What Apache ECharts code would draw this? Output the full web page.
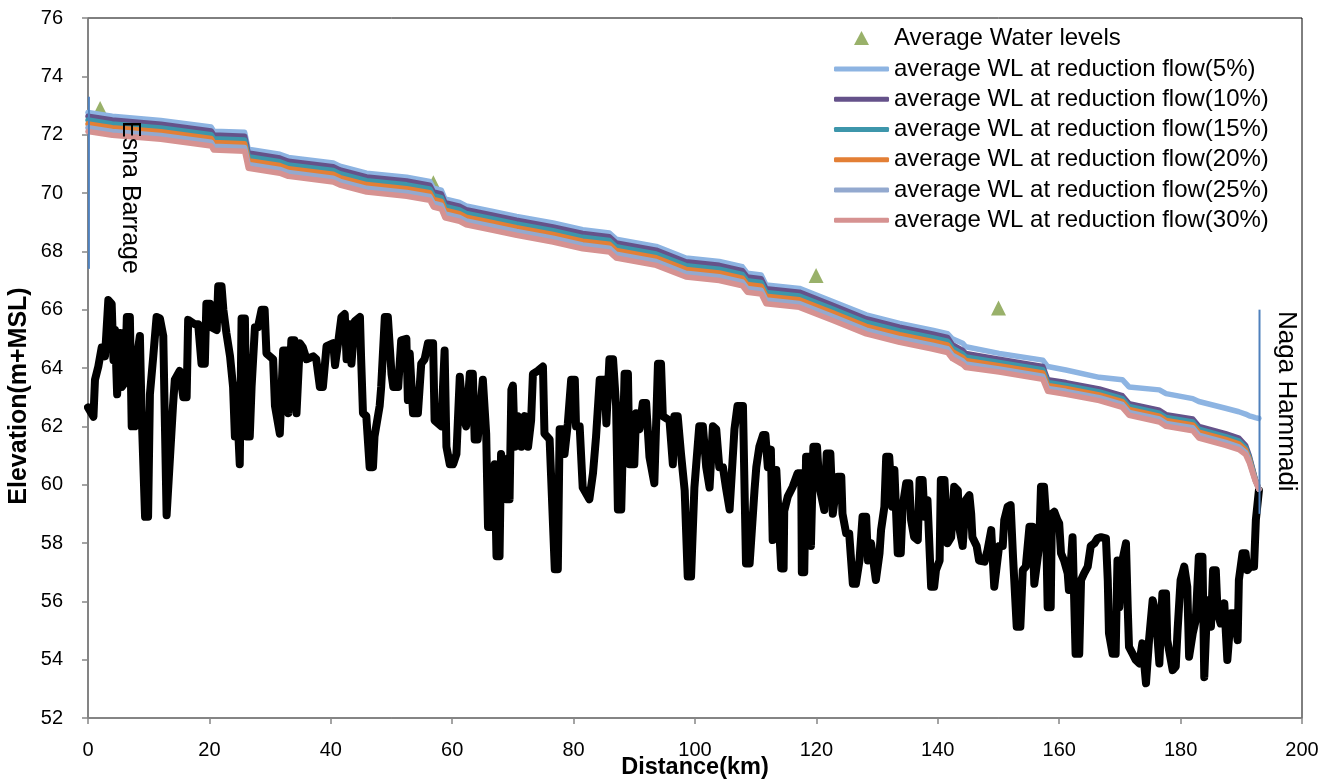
<!DOCTYPE html>
<html>
<head>
<meta charset="utf-8">
<script src="https://cdn.jsdelivr.net/npm/echarts@6/dist/echarts.min.js"></script>
<style>
html,body{margin:0;padding:0;background:#fff}
#c{width:1342px;height:782px}
</style>
</head>
<body>
<div id="c"></div>
<script>
// ---------------- DATA ----------------
const xTickMin = 0, xTickMax = 200, xTickStep = 20;
const yTickMin = 52, yTickMax = 76, yTickStep = 2;

const legendNames = [
  'Average Water levels',
  'average WL at reduction flow(5%)',
  'average WL at reduction flow(10%)',
  'average WL at reduction flow(15%)',
  'average WL at reduction flow(20%)',
  'average WL at reduction flow(25%)',
  'average WL at reduction flow(30%)'
];

// observed average water levels (triangles)
const obsDistance = [2.0, 56.9, 119.95, 150.0];
const obsLevel    = [72.90, 70.35, 67.17, 66.06];

// water-level profiles (km)
const wlDistance = [0,4,12,20.3,20.7,25.8,26.4,31.6,33.0,40.4,
  41.5,45.9,52.5,56.3,56.9,58.2,58.8,61.2,62.3,66.7,
  70.6,76.6,81.5,85.9,87.0,93.6,98.5,104,107.8,108.6,
  110.9,111.7,117.2,122.7,128.2,133.7,139.1,141.6,142.4,144.1,
  144.6,150.1,157.3,158.1,161.1,166.6,170.4,171.5,176.5,177.6,
  182.0,183.0,187.4,189.6,190.7,191.3,191.8,192.3,192.9];

const wl5 = [72.76,72.63,72.49,72.26,72.12,72.08,71.50,71.33,71.22,71.03,
  70.92,70.68,70.54,70.40,70.17,70.10,69.80,69.68,69.56,69.37,
  69.20,68.97,68.74,68.63,68.42,68.17,67.77,67.65,67.47,67.25,
  67.19,66.85,66.73,66.28,65.82,65.53,65.30,65.18,65.00,64.85,
  64.73,64.50,64.27,64.05,63.93,63.68,63.60,63.35,63.25,63.12,
  62.95,62.85,62.62,62.50,62.42,62.36,62.33,62.30,62.27];

const wl10 = [72.63,72.50,72.36,72.13,71.99,71.95,71.37,71.20,71.09,70.90,
  70.79,70.55,70.41,70.27,70.04,69.97,69.67,69.55,69.43,69.24,
  69.07,68.84,68.61,68.50,68.29,68.04,67.64,67.52,67.34,67.12,
  67.06,66.72,66.60,66.15,65.69,65.40,65.17,65.05,64.80,64.60,
  64.50,64.30,64.05,63.60,63.50,63.28,63.05,62.78,62.55,62.40,
  62.25,62.00,61.75,61.60,61.35,61.00,60.60,60.20,59.85];

const wl15 = [72.50,72.37,72.23,72.00,71.86,71.82,71.24,71.07,70.96,70.77,
  70.66,70.42,70.28,70.14,69.91,69.84,69.54,69.42,69.30,69.11,
  68.94,68.71,68.48,68.37,68.16,67.91,67.51,67.39,67.21,66.99,
  66.93,66.59,66.47,66.02,65.56,65.27,65.04,64.92,64.68,64.48,
  64.38,64.19,63.94,63.50,63.40,63.18,62.95,62.68,62.45,62.30,
  62.15,61.90,61.65,61.50,61.27,60.94,60.56,60.18,59.85];

const wl20 = [72.37,72.24,72.10,71.87,71.73,71.69,71.11,70.94,70.83,70.64,
  70.53,70.29,70.15,70.01,69.78,69.71,69.41,69.29,69.17,68.98,
  68.81,68.58,68.35,68.24,68.03,67.78,67.38,67.26,67.08,66.86,
  66.80,66.46,66.34,65.89,65.43,65.14,64.91,64.79,64.56,64.36,
  64.26,64.08,63.83,63.40,63.30,63.08,62.85,62.58,62.35,62.20,
  62.05,61.80,61.55,61.40,61.19,60.88,60.52,60.16,59.85];

const wl25 = [72.24,72.11,71.97,71.74,71.60,71.56,70.98,70.81,70.70,70.51,
  70.40,70.16,70.02,69.88,69.65,69.58,69.28,69.16,69.04,68.85,
  68.68,68.45,68.22,68.11,67.90,67.65,67.25,67.13,66.95,66.73,
  66.67,66.33,66.21,65.76,65.30,65.01,64.78,64.66,64.44,64.24,
  64.14,63.97,63.72,63.30,63.20,62.98,62.75,62.48,62.25,62.10,
  61.95,61.70,61.45,61.30,61.11,60.82,60.48,60.14,59.85];

const wl30 = [72.11,71.98,71.84,71.61,71.47,71.43,70.85,70.68,70.57,70.38,
  70.27,70.03,69.89,69.75,69.52,69.45,69.15,69.03,68.91,68.72,
  68.55,68.32,68.09,67.98,67.77,67.52,67.12,67.00,66.82,66.60,
  66.54,66.20,66.08,65.63,65.17,64.88,64.65,64.53,64.32,64.12,
  64.02,63.86,63.61,63.20,63.10,62.88,62.65,62.38,62.15,62.00,
  61.85,61.60,61.35,61.20,61.03,60.76,60.44,60.12,59.85];

// river bed profile [km, elevation]
const bedProfile = [
  [0.0,62.65],[0.9,62.33],[1.15,63.6],[1.7,64.05],[2.25,64.7],[2.8,64.4],[3.35,66.33],[3.9,66.2],[4.2,64.27],[4.45,65.3],
  [4.8,63.1],[5.3,65.2],[5.55,63.35],[6.1,63.5],[6.4,65.75],[6.9,65.75],[7.2,62.0],[7.7,62.0],[8.0,64.3],[8.55,65.1],
  [8.8,62.7],[9.4,58.9],[9.9,58.9],[10.2,63.1],[10.75,64.4],[11.3,65.75],[11.85,65.7],[12.4,65.1],[12.95,58.95],[13.2,59.0],
  [14.0,62.7],[14.3,63.6],[15.1,63.9],[15.7,63.0],[16.25,63.0],[16.5,65.65],[17.6,65.5],[18.15,65.5],[18.7,64.15],[19.25,64.15],
  [19.5,66.2],[20.1,66.2],[20.35,65.4],[21.2,65.3],[21.45,66.8],[22.0,66.8],[22.3,66.0],[22.8,65.2],[23.4,64.4],[23.9,63.35],
  [24.2,61.65],[24.4,63.4],[25.0,60.7],[25.3,65.7],[25.85,65.7],[26.1,61.65],[26.65,61.65],[26.95,63.35],[27.5,65.4],[28.0,65.4],
  [28.6,66.0],[29.1,66.0],[29.4,64.5],[30.5,64.3],[30.8,62.7],[31.6,61.75],[32.15,64.6],[32.7,64.6],[33.0,62.45],[33.5,64.95],
  [34.0,64.95],[34.35,62.45],[34.9,64.85],[35.4,64.7],[36.0,64.3],[37.1,64.4],[37.6,64.3],[38.2,63.35],[38.7,63.35],[39.3,64.75],
  [40.4,64.85],[40.7,64.1],[41.2,64.85],[41.75,65.75],[42.3,65.85],[42.6,64.3],[43.1,65.5],[43.4,64.15],[43.95,65.6],[44.8,65.75],
  [45.0,64.3],[45.3,62.45],[45.85,62.35],[46.4,60.6],[46.95,60.6],[47.2,61.65],[48.05,62.7],[48.3,63.35],[48.9,65.75],[49.4,65.75],
  [50.0,63.8],[50.3,63.35],[51.1,63.35],[51.6,64.95],[52.45,65.0],[52.7,62.9],[53.0,64.5],[53.55,62.45],[54.35,62.45],[54.9,64.15],
  [55.45,64.3],[56.0,64.85],[56.85,64.85],[57.1,62.2],[58.2,62.0],[58.75,64.6],[59.05,61.3],[59.6,60.7],[60.15,60.7],[60.7,61.05],
  [61.25,63.7],[61.8,62.35],[62.3,62.0],[62.9,63.8],[63.4,63.8],[63.7,61.55],[64.2,61.55],[65.05,63.6],[65.6,61.75],[65.9,58.55],
  [66.45,58.55],[67.0,60.7],[67.3,57.55],[67.8,57.55],[68.05,61.05],[68.9,59.5],[69.2,60.9],[69.45,59.5],[69.75,63.25],[70.0,63.4],
  [70.3,61.3],[70.8,62.35],[71.4,61.3],[71.95,62.35],[72.5,61.3],[73.0,62.2],[73.3,63.8],[74.1,63.9],[74.95,64.05],[75.2,61.75],
  [76.05,61.55],[76.3,60.25],[76.9,57.1],[77.4,57.1],[77.7,61.9],[78.2,61.9],[78.5,61.05],[79.05,62.1],[79.6,63.6],[80.2,63.6],
  [80.4,62.0],[81.0,62.0],[81.5,59.9],[82.6,59.5],[83.2,60.4],[83.7,61.65],[84.3,63.6],[85.1,63.6],[85.4,62.1],[85.9,64.3],
  [86.5,64.3],[87.0,62.7],[87.3,59.15],[87.85,59.15],[88.4,63.8],[88.95,63.8],[89.2,60.7],[90.0,60.7],[90.3,62.45],[90.85,61.9],
  [91.4,62.8],[91.95,62.8],[92.5,60.95],[93.3,60.05],[93.9,64.15],[94.4,64.15],[94.7,62.35],[95.8,62.2],[96.35,60.7],[96.6,62.35],
  [97.15,62.35],[97.7,61.05],[98.3,59.8],[98.8,56.85],[99.35,56.85],[99.9,59.9],[100.7,62.0],[101.3,62.0],[101.85,60.6],[102.4,59.9],
  [102.95,62.0],[103.5,61.9],[104.0,60.6],[104.6,60.6],[105.1,59.9],[105.7,59.15],[106.5,61.9],[107.0,62.7],[107.9,62.7],[108.4,57.3],
  [109.0,57.3],[109.8,59.8],[110.1,60.6],[110.6,61.3],[111.2,61.7],[111.6,61.7],[112.0,60.6],[112.5,61.2],[112.8,58.1],[113.4,60.5],
  [114.2,57.13],[114.6,57.13],[114.7,59.1],[115.3,59.6],[116.1,59.93],[116.9,60.39],[117.5,60.39],[117.6,57.0],[118.0,57.0],[118.3,60.96],
  [118.85,60.96],[119.1,57.9],[119.5,61.3],[120.1,61.3],[120.5,59.93],[121.3,59.13],[121.7,61.07],[122.3,61.07],[122.7,59.0],[123.5,60.27],
  [124.1,60.27],[124.3,59.0],[124.9,58.33],[125.4,58.33],[126.0,56.6],[126.5,56.6],[127.1,57.4],[127.6,58.9],[128.2,58.9],[128.5,57.4],
  [129.0,57.99],[129.8,56.73],[130.4,57.65],[130.65,58.44],[131.2,59.24],[131.5,60.96],[132.0,60.96],[132.5,59.24],[132.85,60.5],[133.4,57.65],
  [133.9,57.65],[134.2,59.24],[134.8,60.05],[135.3,60.05],[135.6,58.79],[136.1,58.2],[136.7,58.1],[137.0,60.16],[137.5,60.16],[137.8,58.9],
  [138.3,59.47],[138.9,56.5],[139.4,56.5],[139.7,57.07],[140.3,57.4],[140.5,60.16],[141.1,60.16],[141.6,57.99],[142.2,58.2],[142.7,59.93],
  [143.3,59.8],[143.5,58.56],[144.1,57.9],[144.6,59.47],[145.2,59.64],[145.5,59.0],[145.7,58.2],[146.4,57.9],[146.8,57.4],[147.7,57.36],
  [148.2,57.76],[148.8,58.44],[149.3,56.5],[149.6,56.5],[150.1,57.9],[150.7,57.9],[150.95,58.79],[151.5,59.24],[152.0,59.3],[152.4,57.5],
  [153.0,55.13],[153.6,55.13],[154.0,57.07],[154.5,57.19],[155.1,58.56],[155.6,58.56],[155.9,56.6],[156.2,56.6],[156.7,57.9],[157.0,59.93],
  [157.5,59.93],[157.8,59.0],[158.1,55.8],[158.6,55.8],[158.8,59.0],[159.2,59.07],[159.7,58.79],[160.0,58.67],[160.3,57.65],[160.8,57.4],
  [161.4,56.96],[161.6,56.39],[162.2,58.2],[162.7,54.2],[163.3,54.2],[163.6,56.73],[164.1,56.96],[164.7,57.19],[165.2,57.9],[165.8,57.99],
  [166.3,58.16],[166.9,58.2],[167.7,58.16],[168.0,56.73],[168.2,54.9],[168.8,54.2],[169.3,54.2],[169.6,57.4],[169.9,55.8],[170.4,57.4],
  [171.0,57.99],[171.3,55.7],[171.5,54.44],[172.1,54.2],[172.6,53.99],[173.2,53.87],[173.7,54.56],[174.3,53.19],[174.8,54.67],[175.4,56.04],
  [175.9,55.59],[176.5,53.87],[177.0,56.27],[177.6,56.27],[177.8,54.67],[178.7,53.64],[179.2,53.76],[179.5,55.0],[180.0,56.73],[180.6,57.19],
  [181.1,56.5],[181.4,54.1],[182.0,54.9],[182.5,55.36],[183.0,57.53],[183.6,57.53],[183.9,53.4],[184.4,56.04],[185.0,55.13],[185.35,57.07],
  [185.8,57.07],[186.1,55.59],[186.6,55.24],[187.2,55.93],[187.7,53.99],[188.3,55.59],[188.8,55.59],[189.4,54.67],[189.6,56.73],[190.2,57.65],
  [190.7,57.65],[191.0,57.07],[191.5,57.19],[192.1,57.19],[192.4,58.79],[192.9,59.8]
];

// structure marker lines
const esnaX = [0.15, 0.15], esnaY = [67.4, 73.3];
const nagaX = [193.0, 193.0], nagaY = [59.0, 66.0];
const structureLabels = ['Esna Barrage', 'Naga Hammadi'];

// ---------------- CHART ----------------
const FONT = '"Liberation Sans", Arial, sans-serif';
const lineColors = ['#8DB4E2', '#65528A', '#3D96AB', '#E37F35', '#93A9CF', '#D69291'];
const wlSeries = [wl5, wl10, wl15, wl20, wl25, wl30];
const zip = (xs, ys) => xs.map((x, i) => [x, ys[i]]);

const chart = echarts.init(document.getElementById('c'), null, {renderer: 'canvas'});

const series = [];
series.push({
  name: legendNames[0], type: 'scatter', z: 1,
  data: zip(obsDistance, obsLevel),
  symbol: 'triangle', symbolSize: 15,
  itemStyle: {color: '#7F9E45'}
});
series.push({
  name: 'bed', type: 'line', z: 2, symbol: 'none', showSymbol: false,
  data: bedProfile,
  lineStyle: {color: '#000', width: 8, join: 'round', cap: 'round'}
});
wlSeries.forEach((arr, k) => {
  series.push({
    name: legendNames[k + 1], type: 'line', z: 3, symbol: 'none', showSymbol: false,
    data: zip(wlDistance, arr),
    itemStyle: {color: lineColors[k]},
    lineStyle: {color: lineColors[k], width: 5.5, join: 'round', cap: 'round'}
  });
});
series.push({
  name: 'esna', type: 'line', z: 4, symbol: 'none', data: zip(esnaX, esnaY),
  lineStyle: {color: '#4F81BD', width: 2}
});
series.push({
  name: 'naga', type: 'line', z: 4, symbol: 'none', data: zip(nagaX, nagaY),
  lineStyle: {color: '#4F81BD', width: 2}
});

const legendText = {fontFamily: FONT, fontSize: 24, color: '#000'};

chart.setOption({
  animation: false,
  backgroundColor: '#fff',
  textStyle: {fontFamily: FONT},
  grid: {left: 88, right: 40, top: 18, bottom: 64, containLabel: false, outerBoundsMode: 'none',
         show: true, borderColor: '#000', borderWidth: 1, backgroundColor: 'transparent'},
  legend: [
    {
      data: [{name: legendNames[0], icon: 'triangle'}],
      orient: 'vertical', left: 854, top: 26, padding: 0,
      itemWidth: 15, itemHeight: 14, itemGap: 6,
      textStyle: Object.assign({padding: [0, 0, 0, 20]}, legendText), selectedMode: false
    },
    {
      data: legendNames.slice(1).map(n => ({name: n, icon: 'roundRect'})),
      orient: 'vertical', left: 834, top: 57, padding: 0,
      itemWidth: 55, itemHeight: 5, itemGap: 6.25,
      textStyle: legendText, selectedMode: false
    }
  ],
  xAxis: {
    type: 'value', min: xTickMin, max: xTickMax, interval: xTickStep,
    axisLine: {show: true, onZero: false, lineStyle: {color: '#868686', width: 1.5}},
    axisTick: {show: true, inside: false, length: 6, lineStyle: {color: '#868686', width: 1.5}},
    axisLabel: {fontSize: 20, color: '#000', margin: 22, fontFamily: FONT},
    splitLine: {show: false},
    name: 'Distance(km)', nameLocation: 'middle', nameGap: 38, nameMoveOverlap: false,
    nameTextStyle: {fontSize: 23.5, fontWeight: 'bold', color: '#000', fontFamily: FONT}
  },
  yAxis: {
    type: 'value', min: yTickMin, max: yTickMax, interval: yTickStep,
    axisLine: {show: true, onZero: false, lineStyle: {color: '#868686', width: 1.5}},
    axisTick: {show: true, inside: false, length: 6, lineStyle: {color: '#868686', width: 1.5}},
    axisLabel: {fontSize: 20, color: '#000', margin: 25, fontFamily: FONT},
    splitLine: {show: false},
    name: 'Elevation(m+MSL)', nameLocation: 'middle', nameGap: 56, nameMoveOverlap: false,
    nameTextStyle: {fontSize: 25, fontWeight: 'bold', color: '#000', fontFamily: FONT, padding: [0, 56, 0, 0]}
  },
  graphic: [
    {type: 'text', x: 130, y: 121, rotation: -Math.PI / 2, silent: true, z: 100,
     style: {text: structureLabels[0], fontSize: 25, fontFamily: FONT, fill: '#000', align: 'left', verticalAlign: 'middle'}},
    {type: 'text', x: 1286, y: 311, rotation: -Math.PI / 2, silent: true, z: 100,
     style: {text: structureLabels[1], fontSize: 26, fontFamily: FONT, fill: '#000', align: 'left', verticalAlign: 'middle'}}
  ],
  series: series
});
</script>
</body>
</html>
